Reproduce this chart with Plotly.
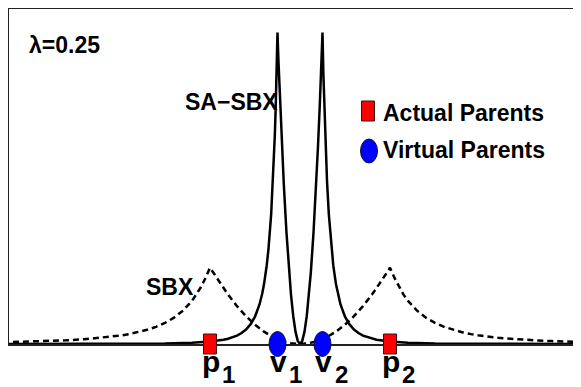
import plotly.graph_objects as go

# ---- data (x in units where actual parents sit at -1 and +1) ----
sbx_x = [-3.3, -3.0, -2.8, -2.6, -2.4, -2.2, -2.0, -1.9, -1.8, -1.7, -1.6, -1.5, -1.4, -1.3, -1.2,
         -1.15, -1.1, -1.05, -1.0, -0.95, -0.9, -0.8, -0.7, -0.6, -0.5, -0.4, -0.3, -0.2, -0.1, 0.0,
         0.1, 0.2, 0.3, 0.4, 0.5, 0.6, 0.7, 0.8, 0.9, 0.95, 1.0, 1.05, 1.1, 1.15,
         1.2, 1.3, 1.4, 1.5, 1.6, 1.7, 1.8, 1.9, 2.0, 2.2, 2.4, 2.6, 2.8, 3.0, 3.3]
sbx_y = [0.033, 0.045, 0.056, 0.071, 0.091, 0.120, 0.163, 0.192, 0.229, 0.275, 0.333, 0.410, 0.511, 0.648, 0.837,
         0.959, 1.106, 1.283, 1.48, 1.354, 1.215, 0.96, 0.735, 0.54, 0.375, 0.24, 0.135, 0.06, 0.015, 0.0,
         0.015, 0.06, 0.135, 0.24, 0.375, 0.54, 0.735, 0.96, 1.215, 1.354, 1.48, 1.283, 1.106, 0.959,
         0.837, 0.648, 0.511, 0.410, 0.333, 0.275, 0.229, 0.192, 0.163, 0.120, 0.091, 0.071, 0.056, 0.045, 0.033]

sa_x = [-3.3, -2.5, -2.0, -1.5, -1.2, -1.0, -0.85, -0.8, -0.7, -0.65, -0.6, -0.55, -0.5, -0.45, -0.42, -0.4,
        -0.37, -0.35, -0.32, -0.3, -0.29, -0.28, -0.27, -0.26, -0.25, -0.24, -0.22, -0.2, -0.18, -0.15,
        -0.12, -0.1, -0.075, -0.05, -0.025, 0.0,
        0.025, 0.05, 0.075, 0.1, 0.12, 0.15, 0.18, 0.2, 0.22, 0.24, 0.25, 0.26, 0.27, 0.28, 0.29, 0.3,
        0.32, 0.35, 0.37, 0.4, 0.42, 0.45, 0.5, 0.55, 0.6, 0.65, 0.7, 0.8, 0.85, 1.0, 1.2, 1.5, 2.0, 2.5, 3.3]
sa_y = [0.0007, 0.0019, 0.0041, 0.0113, 0.0248, 0.0469, 0.0829, 0.102, 0.163, 0.212, 0.280, 0.380, 0.530, 0.767, 0.976, 1.158,
        1.52, 1.848, 2.528, 3.17, 3.57, 4.04, 4.58, 5.23, 6.05, 5.53, 4.646, 3.84, 3.11, 2.16,
        1.382, 0.96, 0.54, 0.24, 0.06, 0.0,
        0.06, 0.24, 0.54, 0.96, 1.382, 2.16, 3.11, 3.84, 4.646, 5.53, 6.05, 5.23, 4.58, 4.04, 3.57, 3.17,
        2.528, 1.848, 1.52, 1.158, 0.976, 0.767, 0.530, 0.380, 0.280, 0.212, 0.163, 0.102, 0.0829, 0.0469, 0.0248, 0.0113, 0.0041, 0.0019, 0.0007]

actual_parents = [-1.0, 1.0]
virtual_parents = [-0.25, 0.25]
actual_labels = [("p", "1"), ("p", "2")]
virtual_labels = [("v", "1"), ("v", "2")]
lambda_text = "λ=0.25"

FONT = "Liberation Sans, Arial, sans-serif"

fig = go.Figure()
fig.add_trace(go.Scatter(x=sbx_x, y=sbx_y, mode="lines", name="SBX",
                         line=dict(color="black", width=2.5, dash="6px,4px")))
fig.add_trace(go.Scatter(x=sa_x, y=sa_y, mode="lines", name="SA-SBX",
                         line=dict(color="black", width=2.5)))

RED_LINE = dict(color="#3a1010", width=1)
BLUE_LINE = dict(color="#101030", width=1)
shapes = []
for p in actual_parents:
    shapes.append(dict(type="rect", xref="x", yref="paper", xsizemode="pixel", ysizemode="pixel",
                       xanchor=p, yanchor=0, x0=-6.5, x1=6.5, y0=-10, y1=10,
                       fillcolor="#ff0000", line=RED_LINE))
for v in virtual_parents:
    shapes.append(dict(type="circle", xref="x", yref="paper", xsizemode="pixel", ysizemode="pixel",
                       xanchor=v, yanchor=0, x0=-8.5, x1=8.5, y0=-12.5, y1=12.5,
                       fillcolor="#0000ff", line=BLUE_LINE))
# legend symbols
shapes.append(dict(type="rect", xref="paper", yref="paper", xsizemode="pixel", ysizemode="pixel",
                   xanchor=0.6276, yanchor=0.6955, x0=-6.5, x1=6.5, y0=-10, y1=10,
                   fillcolor="#ff0000", line=RED_LINE))
shapes.append(dict(type="circle", xref="paper", yref="paper", xsizemode="pixel", ysizemode="pixel",
                   xanchor=0.6294, yanchor=0.5761, x0=-8.5, x1=8.5, y0=-12, y1=12,
                   fillcolor="#0000ff", line=BLUE_LINE))

ann = []
def txt(x, y, s, size=23, xref="paper", yref="paper", xanchor="left", yanchor="middle", xshift=0, yshift=0):
    ann.append(dict(x=x, y=y, xref=xref, yref=yref, text="<b>" + s + "</b>", showarrow=False,
                    xanchor=xanchor, yanchor=yanchor, xshift=xshift, yshift=yshift,
                    font=dict(family=FONT, size=size, color="black")))

txt(0.0315, 0.894, lambda_text, size=23)
txt(0.3042, 0.7209, "SA−SBX")
txt(0.236, 0.171, "SBX")
txt(0.6503, 0.6896, "Actual Parents")
txt(0.6503, 0.5791, "Virtual Parents")

for pos, (letter, digit) in zip(actual_parents + virtual_parents, actual_labels + virtual_labels):
    txt(pos, 0, letter, size=30, xref="x", xanchor="center", yanchor="top", xshift=1, yshift=1)
    txt(pos, 0, digit, size=24, xref="x", xanchor="left", yanchor="top", xshift=10, yshift=-15)

fig.update_layout(
    width=573, height=379,
    margin=dict(l=1, r=0, t=1, b=43),
    paper_bgcolor="white", plot_bgcolor="white",
    showlegend=False,
    shapes=shapes, annotations=ann,
    xaxis=dict(range=[-3.233, 3.122], showgrid=False, zeroline=False, showticklabels=False,
               ticks="", showline=True, linecolor="#222222", linewidth=1.5, mirror=True),
    yaxis=dict(range=[0, 6.505], showgrid=False, zeroline=False, showticklabels=False,
               ticks="", showline=True, linecolor="#222222", linewidth=1.5, mirror=False),
)

fig.write_html("out.html")
